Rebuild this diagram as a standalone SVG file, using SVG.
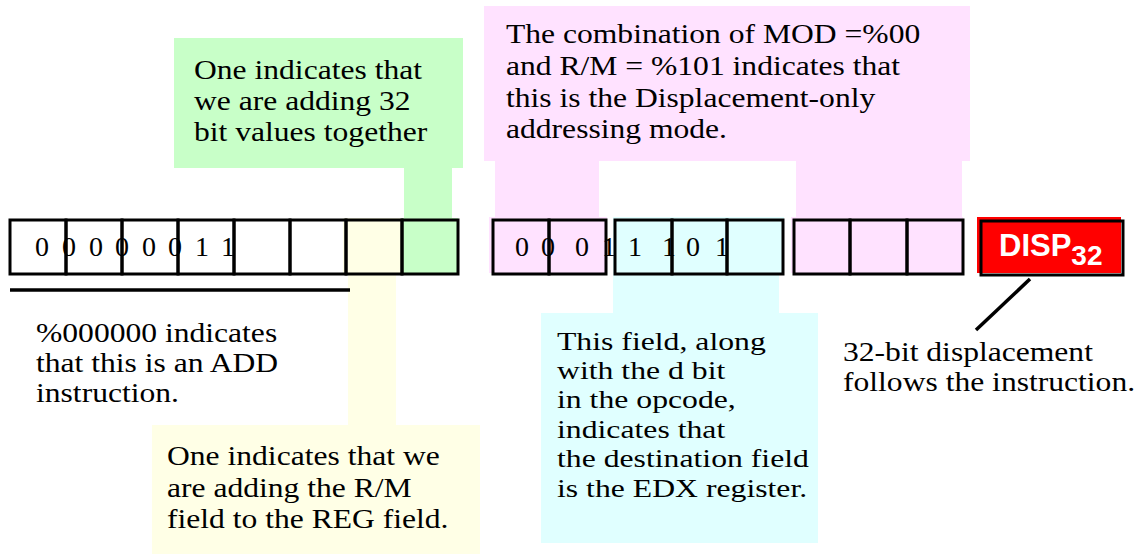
<svg xmlns="http://www.w3.org/2000/svg" width="1141" height="556" viewBox="0 0 1141 556">
<style>
.t{font-family:"Liberation Serif","Times New Roman",serif;font-size:27px;fill:#000}
.tc{font-family:"Liberation Serif","Times New Roman",serif;font-size:26px;fill:#000}
.d{font-family:"Liberation Serif","Times New Roman",serif;font-size:28px;fill:#000;text-anchor:middle}
.cell{fill:none;stroke:#000;stroke-width:3}
.green{fill:#C8FFC8}
.pink{fill:#FFE2FF}
.yellow{fill:#FFFFE6}
.cyan{fill:#E0FFFF}
.ln{stroke:#000;stroke-width:3.5;fill:none}
</style>
<rect width="1141" height="556" fill="#fff"/>
<g id="green-note">
<rect class="green" x="174" y="38" width="289" height="130"/>
<rect class="green" x="404" y="167" width="48" height="52"/>
<rect class="green" x="402" y="218" width="56" height="56"/>
<g transform="translate(194,0) scale(1.17,1)">
<text class="t" x="0" y="79">One indicates that</text>
<text class="t" x="0" y="110">we are adding 32</text>
<text class="t" x="0" y="141">bit values together</text>
</g>
</g>
<g id="pink-note">
<rect class="pink" x="484" y="6" width="486" height="155"/>
<rect class="pink" x="495" y="160" width="104" height="58"/>
<rect class="pink" x="796" y="160" width="166" height="58"/>
<rect class="pink" x="489" y="217" width="118" height="56"/>
<rect class="pink" x="791" y="217" width="172" height="56"/>
<g transform="translate(506,0) scale(1.17,1)">
<text class="t" x="0" y="43">The combination of MOD =%00</text>
<text class="t" x="0" y="75">and R/M = %101 indicates that</text>
<text class="t" x="0" y="107">this is the Displacement-only</text>
<text class="t" x="0" y="138">addressing mode.</text>
</g>
</g>
<g id="yellow-note">
<rect class="yellow" x="343" y="218" width="58" height="56"/>
<rect class="yellow" x="348" y="273" width="48" height="153"/>
<rect class="yellow" x="152" y="425" width="328" height="129"/>
<g transform="translate(167,0) scale(1.17,1)">
<text class="t" x="0" y="465">One indicates that we</text>
<text class="t" x="0" y="497">are adding the R/M</text>
<text class="t" x="0" y="528">field to the REG field.</text>
</g>
</g>
<g id="cyan-note">
<rect class="cyan" x="613" y="217" width="171" height="57"/>
<rect class="cyan" x="613" y="273" width="166" height="41"/>
<rect class="cyan" x="541" y="313" width="277" height="230"/>
<g transform="translate(557,0) scale(1.22,1)">
<text class="tc" x="0" y="350">This field, along</text>
<text class="tc" x="0" y="379">with the d bit</text>
<text class="tc" x="0" y="408">in the opcode,</text>
<text class="tc" x="0" y="438">indicates that</text>
<text class="tc" x="0" y="467">the destination field</text>
<text class="tc" x="0" y="497">is the EDX register.</text>
</g>
</g>
<g id="opcode-byte">
<rect class="cell" x="10" y="220" width="56" height="54"/>
<rect class="cell" x="66" y="220" width="56" height="54"/>
<rect class="cell" x="122" y="220" width="56" height="54"/>
<rect class="cell" x="178" y="220" width="56" height="54"/>
<rect class="cell" x="234" y="220" width="56" height="54"/>
<rect class="cell" x="290" y="220" width="56" height="54"/>
<rect class="cell" x="346" y="220" width="56" height="54"/>
<rect class="cell" x="402" y="220" width="56" height="54"/>
<text class="d" x="42 69 96 122 149 175 202 228" y="256">00000011</text>
</g>
<g id="modrm-byte">
<rect class="cell" x="493" y="220" width="56" height="54"/>
<rect class="cell" x="549" y="220" width="57" height="54"/>
<rect class="cell" x="615" y="220" width="57" height="54"/>
<rect class="cell" x="672" y="220" width="55" height="54"/>
<rect class="cell" x="727" y="220" width="56" height="54"/>
<rect class="cell" x="794" y="220" width="56" height="54"/>
<rect class="cell" x="850" y="220" width="57" height="54"/>
<rect class="cell" x="907" y="220" width="56" height="54"/>
<text class="d" x="522 548 582 609 635 669 693 722" y="256">00011101</text>
</g>
<g id="disp32">
<rect x="977" y="217" width="144" height="56" fill="#FF0000"/>
<rect class="cell" x="981" y="221" width="142" height="54"/>
<text x="999" y="256" font-family="'Liberation Sans',Arial,sans-serif" font-weight="bold" font-size="31" fill="#fff">DISP<tspan font-size="28" y="265">32</tspan></text>
</g>
<g id="opcode-note">
<g transform="translate(36,0) scale(1.17,1)">
<text class="t" x="0" y="342">%000000 indicates</text>
<text class="t" x="0" y="372">that this is an ADD</text>
<text class="t" x="0" y="402">instruction.</text>
</g>
</g>
<g id="disp-note">
<g transform="translate(843,0) scale(1.17,1)">
<text class="t" x="0" y="361">32-bit displacement</text>
<text class="t" x="0" y="391">follows the instruction.</text>
</g>
</g>
<g id="connectors">
<line class="ln" x1="10" y1="290" x2="350" y2="290" stroke-width="3"/>
<line class="ln" x1="1030" y1="279" x2="976" y2="330"/>
</g>
</svg>
